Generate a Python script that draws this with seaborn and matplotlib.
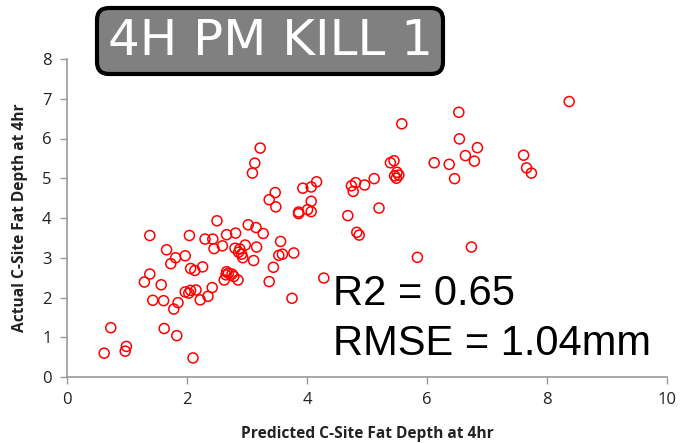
import matplotlib
matplotlib.use("Agg")
import matplotlib.pyplot as plt
import matplotlib.patches as mpatches
import matplotlib.transforms as mtrans
import seaborn as sns
import pandas as pd

predicted = [1.38, 2.04, 2.50, 3.02, 3.15, 2.66, 2.81, 2.30, 2.43, 2.45, 2.59, 1.66, 1.81, 1.73, 1.97,
             2.80, 2.88, 2.86, 2.91, 2.93, 2.97, 3.16, 3.11, 2.06, 2.13, 2.26, 1.38, 1.29, 1.57, 2.66,
             2.65, 2.69, 2.75, 2.78, 2.62, 2.85, 1.97, 2.03, 2.06, 2.15, 2.42, 1.43, 1.61, 1.85, 1.78,
             2.22, 2.35, 0.73, 1.62, 1.83, 0.62, 0.97, 0.99, 2.10,
             3.22, 3.13, 3.09, 5.58, 5.39, 5.45, 5.50, 5.53, 5.46, 5.49, 6.12, 6.37, 3.93, 4.07, 4.16,
             4.07, 4.01, 4.07, 3.86, 3.86, 3.37, 3.47, 3.48, 4.74, 4.81, 4.96, 4.77, 5.12, 4.68, 5.20,
             4.83, 4.87, 3.27, 3.56, 3.53, 3.59, 3.78, 3.44, 3.37, 4.28, 3.75, 5.84,
             8.37, 6.53, 6.54, 6.84, 6.64, 6.79, 6.46, 7.61, 7.66, 7.74, 6.74]
actual = [3.56, 3.56, 3.93, 3.83, 3.76, 3.58, 3.62, 3.47, 3.47, 3.23, 3.30, 3.20, 3.00, 2.85, 3.05,
          3.24, 3.22, 3.14, 3.09, 3.00, 3.32, 3.27, 2.93, 2.73, 2.68, 2.77, 2.59, 2.39, 2.32, 2.65,
          2.57, 2.61, 2.59, 2.53, 2.44, 2.44, 2.14, 2.11, 2.18, 2.19, 2.25, 1.93, 1.92, 1.87, 1.71,
          1.94, 2.03, 1.24, 1.22, 1.04, 0.60, 0.65, 0.77, 0.48,
          5.76, 5.38, 5.13, 6.37, 5.39, 5.44, 5.15, 5.08, 5.06, 5.00, 5.39, 5.35, 4.75, 4.78, 4.91,
          4.42, 4.21, 4.16, 4.15, 4.11, 4.46, 4.64, 4.28, 4.81, 4.89, 4.83, 4.67, 4.99, 4.06, 4.25,
          3.64, 3.57, 3.61, 3.41, 3.06, 3.09, 3.12, 2.76, 2.40, 2.49, 1.98, 3.01,
          6.93, 6.66, 5.99, 5.77, 5.57, 5.43, 4.99, 5.58, 5.26, 5.13, 3.27]

x_ticks = [0, 2, 4, 6, 8, 10]
y_ticks = [0, 1, 2, 3, 4, 5, 6, 7, 8]
title = "4H PM KILL 1"
x_label = "Predicted C-Site Fat Depth at 4hr"
y_label = "Actual C-Site Fat Depth at 4hr"
stats_lines = ["R2 = 0.65", "RMSE = 1.04mm"]

df = pd.DataFrame({"pred": predicted, "act": actual})

sns.set_style("white")
plt.rcParams["font.family"] = ["Open Sans", "DejaVu Sans"]

W, H = 683, 443
fig = plt.figure(figsize=(W / 100, H / 100), dpi=100)
ax = fig.add_axes([67 / W, 1 - 377 / H, 600 / W, 318 / H])

sns.scatterplot(data=df, x="pred", y="act", ax=ax, s=52, facecolors="none",
                edgecolor="#ff0000", linewidth=1.1, marker="o")

ax.set_xlim(0, 10)
ax.set_ylim(0, 8)
ax.set_xticks(x_ticks)
ax.set_yticks(y_ticks)
ax.tick_params(axis="both", direction="out", length=5, width=1, color="#999999",
               labelsize=12, labelcolor="#222222", bottom=True, left=True, pad=6)
for side in ["top", "right"]:
    ax.spines[side].set_visible(False)
for side in ["left", "bottom"]:
    ax.spines[side].set_color("#999999")
    ax.spines[side].set_linewidth(1.2)

ax.set_xlabel(x_label, fontsize=11.2, fontweight="bold", color="#222222", labelpad=13)
ax.set_ylabel(y_label, fontsize=11.2, fontweight="bold", color="#222222", labelpad=10)

px = mtrans.IdentityTransform()
ax.text(333, H - 305, stats_lines[0], transform=px, fontsize=30,
        family="Liberation Sans", color="black", va="baseline", ha="left")
ax.text(333, H - 355, stats_lines[1], transform=px, fontsize=30,
        family="Liberation Sans", color="black", va="baseline", ha="left")

# title box (pixel coordinates, origin bottom-left)
box = mpatches.FancyBboxPatch((97, H - 74), 346, 66,
                              boxstyle="round,pad=0,rounding_size=12",
                              facecolor="#808080", edgecolor="black", linewidth=3,
                              transform=px)
fig.add_artist(box)
fig.text(270 / W, 1 - 41 / H, title, fontsize=36, color="white", ha="center", va="center",
         family="DejaVu Sans")

fig.savefig("out.png", dpi=100)
